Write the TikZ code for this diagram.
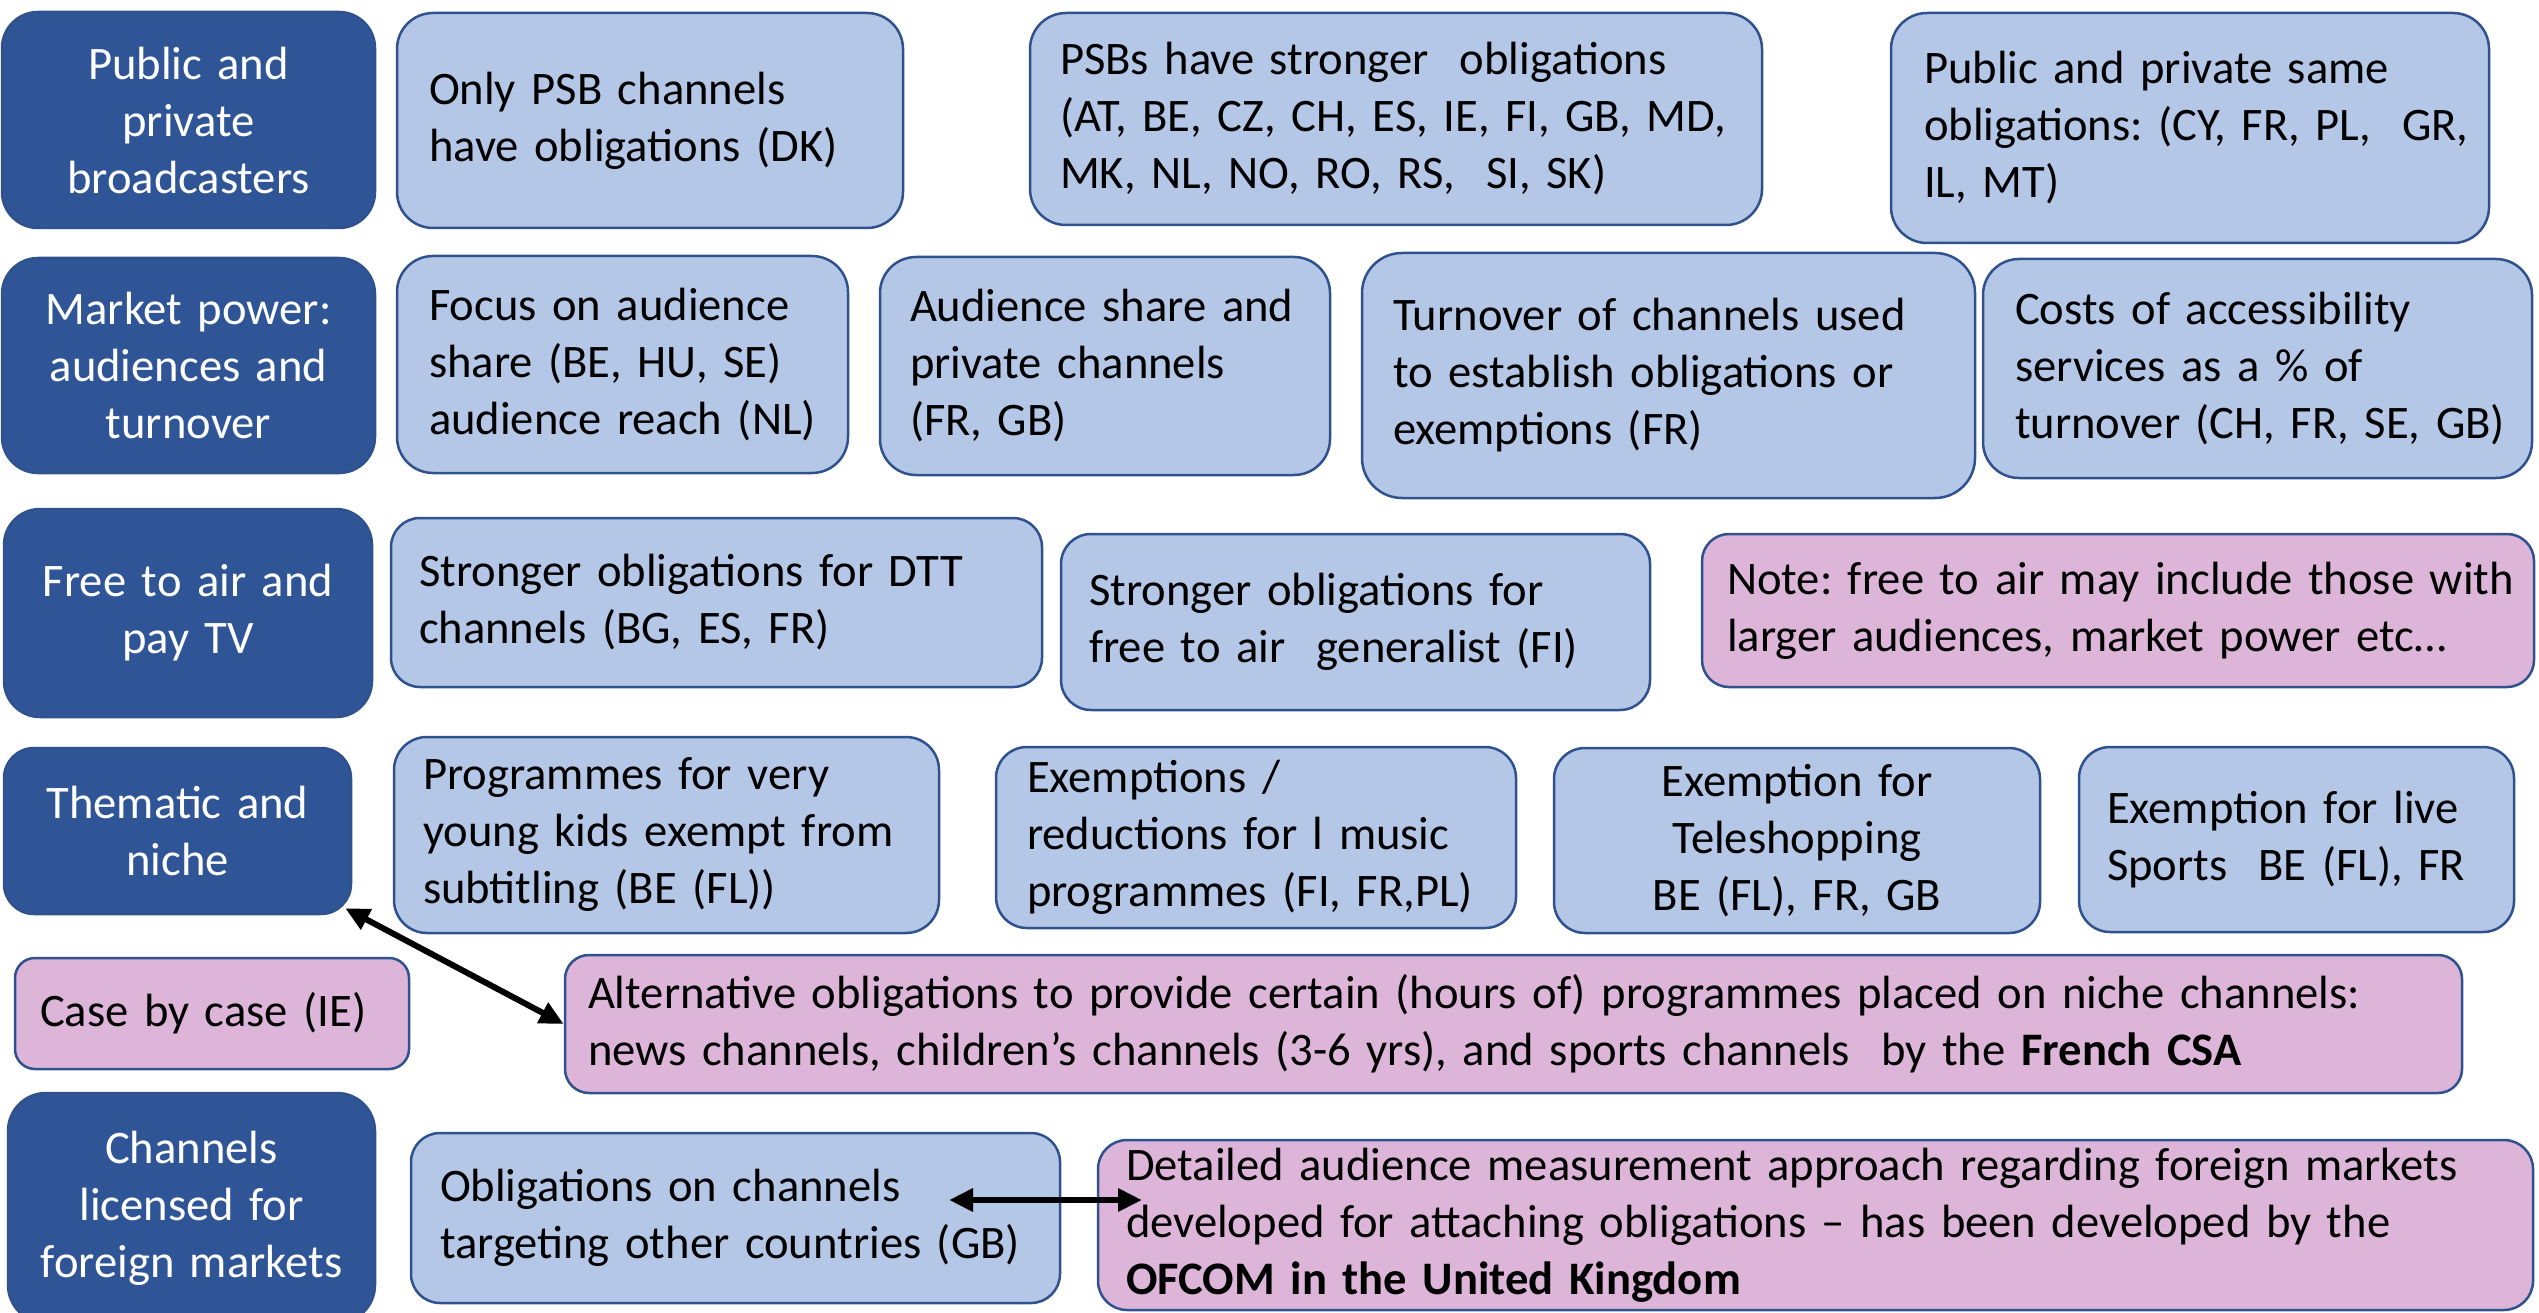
\documentclass[tikz,border=0pt]{standalone}
\usepackage{fontspec}
\setmainfont{Carlito}
\usepackage{tikz}
\usetikzlibrary{
  arrows.meta,
  positioning,
  calc
}
\definecolor{darkblue}{HTML}{2F5597}
\definecolor{edgeblue}{HTML}{2F528F}
\definecolor{paleblue}{HTML}{B4C7E7}
\definecolor{palepink}{HTML}{DCB5D9}

\begin{document}
\begin{tikzpicture}[x=1pt, y=-1pt,
    box/.style={draw=edgeblue, line width=2.5pt, rounded corners=36pt, inner sep=0pt,
      font=\fontsize{46.6}{57}\selectfont\frenchspacing},
    cat/.style={box, fill=darkblue, text=white, align=center},
    obl/.style={box, fill=paleblue, align=left},
    note/.style={box, fill=palepink, align=left},
    dbl/.style={<->, >={Triangle[length=24pt,width=22pt]}, line width=6pt}
  ]
    \useasboundingbox (0,0) rectangle (2539,1313);
    % row 1
    \node[cat, minimum width=373pt, minimum height=216pt, text width=353pt] (catpub) at (188.5,120)
      {Public and\\private\\broadcasters};
    \node[obl, minimum width=506pt, minimum height=215pt, text width=442pt] (psbonly) at (650,120.5)
      {Only PSB channels\\have obligations (DK)};
    \node[obl, minimum width=732pt, minimum height=212pt, text width=672pt] (psbstrong) at (1396,119)
      {PSBs have stronger\ \ obligations\\\mbox{(AT, BE, CZ, CH, ES, IE, FI, GB, MD,}\\MK, NL, NO, RO, RS,\ \ SI, SK)};
    \node[obl, minimum width=598pt, minimum height=230pt, text width=532pt] (samepriv) at (2190,128)
      {Public and private same\\\mbox{obligations: (CY, FR, PL,\ \ GR,}\\IL, MT)};
    % row 2
    \node[cat, minimum width=373pt, minimum height=215pt, text width=353pt] (catmarket) at (188.5,365.5)
      {Market power:\\audiences and\\turnover};
    \node[obl, minimum width=451pt, minimum height=217pt, text width=387pt] (audshare) at (622.5,364.5)
      {Focus on audience\\share (BE, HU, SE)\\audience reach (NL)};
    \node[obl, minimum width=450pt, minimum height=218pt, text width=390pt] (audpriv) at (1105,366)
      {Audience share and\\private channels\\(FR, GB)};
    \node[obl, minimum width=613pt, minimum height=245pt, text width=551pt, rounded corners=40pt] (turnover) at (1668.5,375.5)
      {Turnover of channels used\\to establish obligations or\\exemptions (FR)};
    \node[obl, minimum width=549pt, minimum height=219pt, text width=485pt] (costs) at (2257.5,368.5)
      {Costs of accessibility\\services as a \% of\\\mbox{turnover (CH, FR, SE, GB)}};
    % row 3
    \node[cat, minimum width=368pt, minimum height=208pt, text width=348pt] (catfta) at (188,613)
      {Free to air and\\pay TV};
    \node[obl, minimum width=651pt, minimum height=169pt, text width=595pt, rounded corners=29pt] (dtt) at (716.5,602.5)
      {Stronger obligations for DTT\\channels (BG, ES, FR)};
    \node[obl, minimum width=589pt, minimum height=176pt, text width=533pt, rounded corners=30pt] (generalist) at (1355.5,622)
      {Stronger obligations for\\free to air\ \ generalist (FI)};
    \node[note, minimum width=832pt, minimum height=153pt, text width=782pt, rounded corners=27pt] (ftanote) at (2118,610.5)
      {\mbox{Note: free to air may include those with}\\larger audiences, market power etc…};
    % row 4
    \node[cat, minimum width=347pt, minimum height=166pt, text width=327pt, rounded corners=30pt] (catniche) at (177.5,831)
      {Thematic and\\niche};
    \node[obl, minimum width=545pt, minimum height=196pt, text width=487pt, rounded corners=33pt] (kids) at (666.5,835)
      {Programmes for very\\young kids exempt from\\subtitling (BE (FL))};
    \node[obl, minimum width=520pt, minimum height=181pt, text width=458pt, rounded corners=31pt] (music) at (1256,837.5)
      {Exemptions /\\reductions for l music\\programmes (FI, FR,PL)};
    \node[obl, align=center, minimum width=486pt, minimum height=185pt, text width=440pt, rounded corners=31pt] (teleshop) at (1797,840.5)
      {Exemption for\\Teleshopping\\BE (FL), FR, GB};
    \node[obl, minimum width=435pt, minimum height=185pt, text width=379pt, rounded corners=31pt] (sports) at (2296.5,839.5)
      {Exemption for live\\Sports\ \ BE (FL), FR};
    % row 5
    \node[note, minimum width=394pt, minimum height=111pt, text width=344pt, rounded corners=20pt] (casebycase) at (212,1013.5)
      {Case by case (IE)};
    \node[note, minimum width=1897pt, minimum height=138pt, text width=1851pt, rounded corners=24pt] (nichealt) at (1513.5,1024)
      {Alternative obligations to provide certain (hours of) programmes placed on niche channels:\\news channels, children’s channels (3-6 yrs), and sports channels\ \ by the \textbf{French CSA}};
    % row 6
    \node[cat, minimum width=367pt, minimum height=230pt, text width=347pt, rounded corners=38pt] (catforeign) at (191.5,1208)
      {Channels\\licensed for\\foreign markets};
    \node[obl, minimum width=649pt, minimum height=170pt, text width=591pt, rounded corners=29pt] (foreign) at (735.5,1218)
      {Obligations on channels\\targeting other countries (GB)};
    \node[note, minimum width=1435pt, minimum height=170pt, text width=1379pt, rounded corners=29pt] (ofcom) at (1815.5,1225)
      {Detailed audience measurement approach regarding foreign markets\\developed for attaching obligations – has been developed by the\\\textbf{OFCOM in the United Kingdom}};
    % arrows
    \coordinate (gbend) at (949,1200);
    \coordinate (ofend) at (1142,1200);
    \draw[dbl] ([shift={(-7pt,7pt)}]catniche.south east) -- (nichealt.west);
    \draw[dbl] (gbend) -- (ofend);
\end{tikzpicture}
\end{document}
